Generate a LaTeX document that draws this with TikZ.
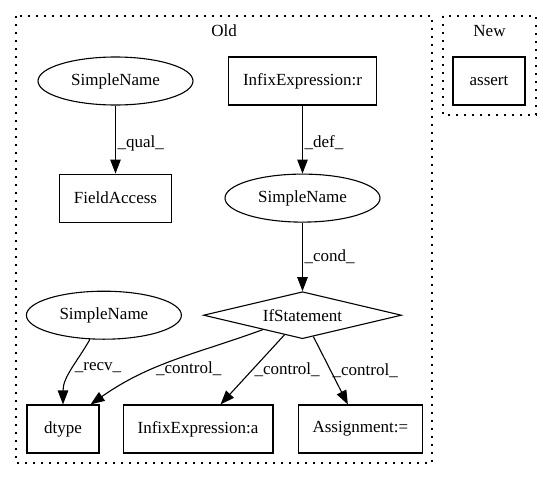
\documentclass[tikz,border=0pt]{standalone}
\usepackage{fontspec}
\setmainfont{Liberation Serif}
\usetikzlibrary{positioning,shapes.geometric,arrows.meta}
\newcommand{\gvsize}{\fontsize{17}{20}\selectfont}

\begin{document}
\begin{tikzpicture}[x=1pt, y=1pt, font=\gvsize, line width=1.1pt,
  >={Triangle[length=14pt,width=10.5pt]},
  astbox/.style={draw, rectangle, minimum width=72pt, minimum height=48pt, inner xsep=14.5pt, inner ysep=0pt},
  oval/.style={draw, ellipse, minimum width=155pt, minimum height=48pt, inner sep=0pt},
  choice/.style={draw, diamond, aspect=4, minimum width=198pt, minimum height=47pt, inner sep=0pt},
  cluster/.style={draw, line width=1.2pt, dash pattern=on 2pt off 6pt},
  lbl/.style={right, inner xsep=1.5pt}]
\useasboundingbox (0,0) rectangle (552,-480);
% clusters
\draw[cluster] (16,-16) rectangle (432,-463);
\draw[cluster] (443,-16) rectangle (536,-115);
\node (old) at (224,-31) {Old};
\node (new) at (489.5,-31) {New};
% nodes
\node (sn1) [oval] at (115.5,-81) {SimpleName};
\node (infr) [astbox] at (302.5,-81) {InfixExpression:r};
\node (assert) [astbox] at (489,-81) {assert};
\node (fa) [astbox, below=68pt of sn1] {FieldAccess};
\node (sn2) [oval, below=68pt of infr] {SimpleName};
\node (ifst) [choice, below=68.5pt of sn2] {IfStatement};
\node (sn3) [oval, left=21pt of ifst] {SimpleName};
\node (dtype) [astbox] at (63,-429) {dtype};
\node (infa) [astbox, right=23pt of dtype] {InfixExpression:a};
\node (assign) [astbox, right=24pt of infa] {Assignment:=};
% edges
\draw[->] (sn1) to node[lbl, pos=.55] {\_qual\_} (fa);
\draw[->] (infr) to node[lbl, pos=.55] {\_def\_} (sn2);
\draw[->] (sn2) to node[lbl] {\_cond\_} (ifst);
\draw[->] (sn3) to[out=-120, in=90] node[lbl, pos=.45] {\_recv\_} (dtype);
\draw[->] (ifst) to[out=200, in=35] node[lbl, pos=.62] {\_control\_} ([xshift=-9pt]dtype.north east);
\draw[->] (ifst) to node[lbl] {\_control\_} (infa);
\draw[->] (ifst) to node[lbl] {\_control\_} (assign);
\end{tikzpicture}
\end{document}
